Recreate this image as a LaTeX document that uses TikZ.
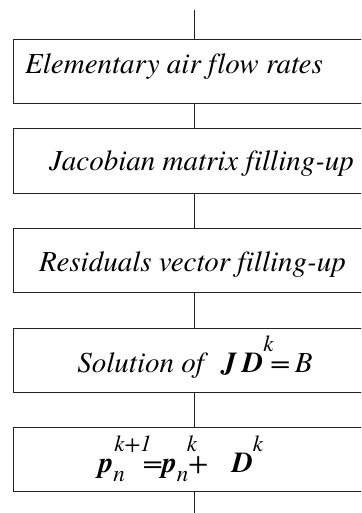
\documentclass[tikz,border=0pt]{standalone}
\usepackage{fontspec}
\setmainfont{texgyretermes}[
  Extension=.otf,
  UprightFont=*-regular,
  ItalicFont=*-italic,
  BoldFont=*-bold,
  BoldItalicFont=*-bolditalic,
  Ligatures={TeX,NoCommon}]
\usetikzlibrary{positioning}
\definecolor{framegray}{RGB}{35,35,35}

% superscript, subscript and bold vector letters
\newcommand{\supk}[1]{\raisebox{21pt}{\fontsize{23}{23}\selectfont\itshape #1}}
\newcommand{\subn}{\raisebox{-9pt}{\fontsize{23}{23}\selectfont\itshape n}}
\newcommand{\bv}[1]{\textbf{\textit{#1}}}

\begin{document}
\begin{tikzpicture}[x=1pt, y=-1pt,
  stage/.style={draw=framegray, line width=0.8pt, minimum width=380pt, minimum height=64pt, anchor=north west, inner sep=0pt},
  caption/.style={font=\fontsize{29}{34}\selectfont\itshape, anchor=base, inner sep=0pt},
  link/.style={draw=framegray, line width=0.8pt},
]
\useasboundingbox (0,0) rectangle (361,513);
\clip (0,0) rectangle (361,513);

% flow boxes (right side runs off the page)
\node[stage] (elem) at (13,39) {};
\node[stage] (jac)  at (13,128.5) {};
\node[stage] (res)  at (13,227.5) {};
\node[stage] (sol)  at (13,327.5) {};
\node[stage] (upd)  at (13,426.5) {};

% box texts
\node[caption] (elem-t) at (174,74)    {Elementary air flow rates};
\node[caption] (jac-t)  at (201.5,170.5) {Jacobian matrix filling-up};
\node[caption] (res-t)  at (192.5,271) {Residuals vector filling-up};
\node[caption] (sol-t)  at (195,372)   {Solution of\hspace{18pt}\bv{J}\hspace{6pt}\bv{D}\rlap{\supk{k}}\hspace{7pt}=\hspace{5pt}\textit{B}};
\node[caption] (upd-t)  at (181,472)   {\bv{p}\rlap{\hspace{1pt}\supk{k+1}}\subn\hspace{18pt}=\bv{p}\rlap{\hspace{10pt}\supk{k}}\subn+\hspace{24pt}\bv{D}\supk{k}};

% vertical connectors
\coordinate (feed)  at (194.5,10);
\coordinate (drain) at (194.5,513);
\draw[link] (feed) -- (feed |- elem.north);
\foreach \a/\b in {elem/jac, jac/res, res/sol, sol/upd}
  \draw[link] (\a.south -| feed) -- (\b.north -| feed);
\draw[link] (upd.south -| feed) -- (drain);
\end{tikzpicture}
\end{document}
